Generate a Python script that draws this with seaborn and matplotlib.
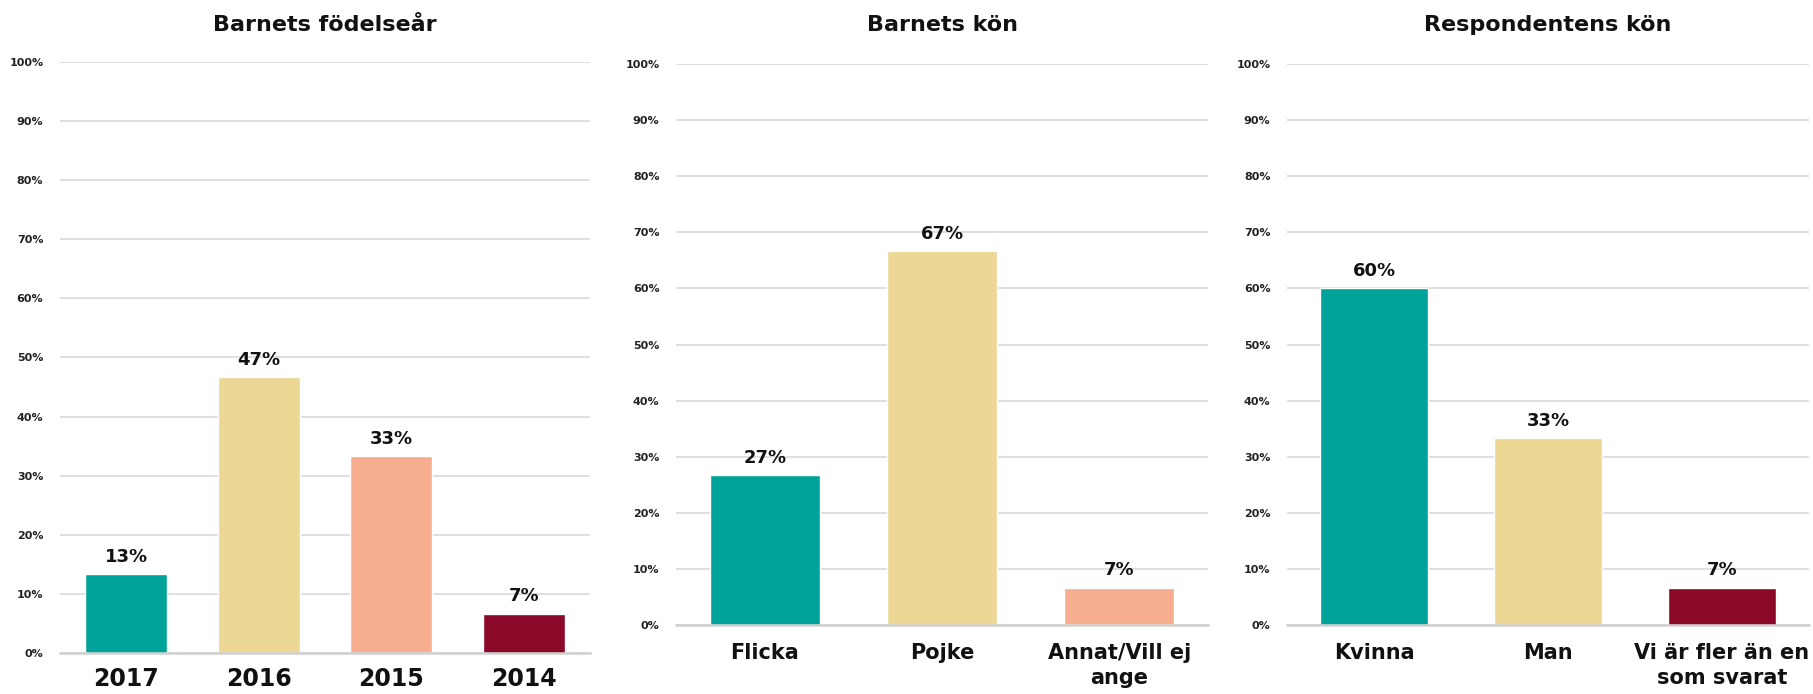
import matplotlib
matplotlib.use("Agg")
import matplotlib.pyplot as plt
import seaborn as sns
import pandas as pd
from matplotlib.ticker import FixedLocator, PercentFormatter

sns.set_theme(style="white")
plt.rcParams['font.family'] = ['DejaVu Sans']

# ---- data ----
titles = ["Barnets födelseår", "Barnets kön", "Respondentens kön"]
cats1 = ["2017", "2016", "2015", "2014"]
vals1 = [13.33, 46.67, 33.33, 6.67]
cats2 = ["Flicka", "Pojke", "Annat/Vill ej\nange"]
vals2 = [26.67, 66.67, 6.67]
cats3 = ["Kvinna", "Man", "Vi är fler än en\nsom svarat"]
vals3 = [60.0, 33.33, 6.67]
yticks = [0, 10, 20, 30, 40, 50, 60, 70, 80, 90, 100]

teal, beige, salmon, darkred = "#00A39A", "#EDD794", "#F7AE90", "#8C0828"
pal1 = [teal, beige, salmon, darkred]
pal2 = [teal, beige, salmon]
pal3 = [teal, beige, darkred]

fig = plt.figure(figsize=(18.13, 6.94), dpi=100)
positions = [
    [0.0331, 0.0591, 0.2923, 0.8516],
    [0.3729, 0.0994, 0.2934, 0.8084],
    [0.7099, 0.0994, 0.2879, 0.8084],
]
panels = [(cats1, vals1, pal1, 17, 10), (cats2, vals2, pal2, 15, 13), (cats3, vals3, pal3, 15, 13)]

for pos, title, (cats, vals, pal, xfs, xpad) in zip(positions, titles, panels):
    ax = fig.add_axes(pos)
    df = pd.DataFrame({"cat": cats, "val": vals})
    sns.barplot(data=df, x="cat", y="val", hue="cat", palette=pal, order=cats,
                hue_order=cats, width=0.62, legend=False, saturation=1, ax=ax)
    ax.set_ylim(0, 100)
    ax.set_xlim(-0.5, len(cats) - 0.5)
    ax.set_yticks(yticks)
    ax.yaxis.set_major_formatter(PercentFormatter(decimals=0))
    ax.grid(axis="y", color="#d9d9d9", linewidth=1.2)
    ax.set_axisbelow(True)
    for s in ["left", "right", "top"]:
        ax.spines[s].set_visible(False)
    ax.spines["bottom"].set_color("#d0d0d0")
    ax.spines["bottom"].set_linewidth(1.8)
    ax.spines["bottom"].set_zorder(3)
    ax.tick_params(axis="y", length=0, pad=12, labelsize=8, labelcolor="#222222")
    for lab in ax.get_yticklabels():
        lab.set_fontweight("bold")
    ax.tick_params(axis="x", which="major", length=0, pad=xpad, labelsize=xfs,
                   labelcolor="#111111")
    ax.xaxis.set_minor_locator(FixedLocator([i - 0.5 for i in range(len(cats) + 1)]))
    ax.tick_params(axis="x", which="minor", length=9, width=1.2, color="#d0d0d0")
    for lab in ax.get_xticklabels():
        lab.set_fontweight("bold")
        lab.set_linespacing(1.3)
    ax.set_xlabel("")
    ax.set_ylabel("")
    for c in ax.containers:
        ax.bar_label(c, labels=[f"{v:.0f}%" for v in c.datavalues], padding=6,
                     fontsize=13, fontweight="bold", color="#111111")
    fig.text(pos[0] + pos[2] / 2, 0.964, title, ha="center", va="center",
             fontsize=16, fontweight="bold", color="#111111")

fig.savefig("out.png", dpi=100)
